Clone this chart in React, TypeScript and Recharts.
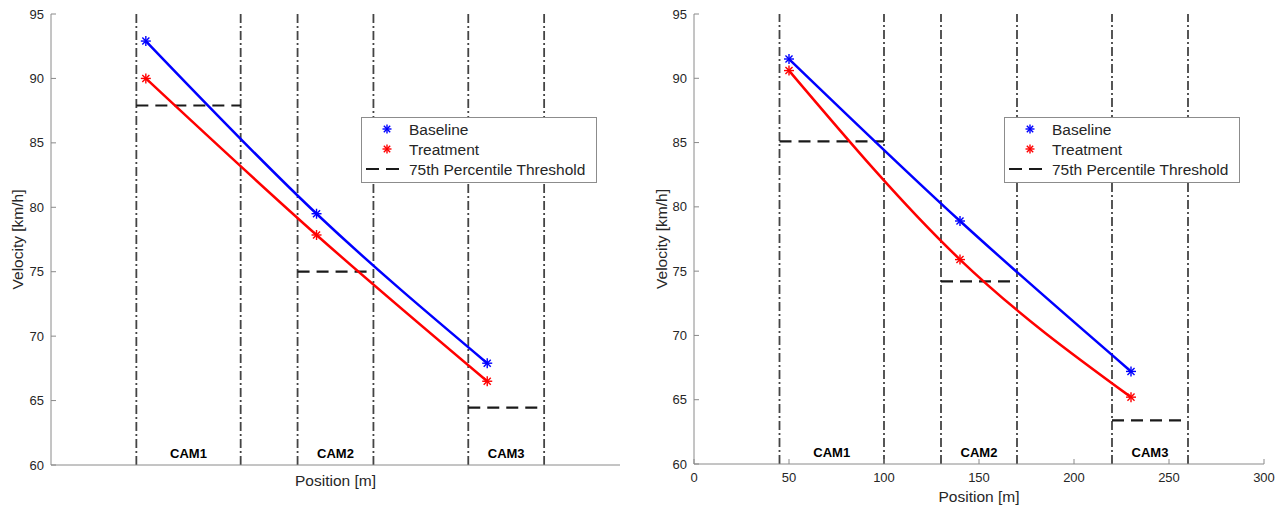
import React from 'react';
import { LineChart, Line, XAxis, YAxis, ReferenceLine, ReferenceArea, Legend } from 'recharts';

const positions = [50, 140, 230];
const leftBaseline = [92.9, 79.5, 67.9];
const leftTreatment = [90.0, 77.85, 66.5];
const leftThreshold = [87.9, 75.0, 64.45];
const rightBaseline = [91.5, 78.9, 67.2];
const rightTreatment = [90.6, 75.9, 65.2];
const rightThreshold = [85.1, 74.2, 63.4];
const camLabels = ['CAM1', 'CAM2', 'CAM3'];
const camStart = [45, 130, 220];
const camEnd = [100, 170, 260];
const yTicks = [60, 65, 70, 75, 80, 85, 90, 95];
const xTicks = [0, 50, 100, 150, 200, 250, 300];
const seriesNames = ['Baseline', 'Treatment', '75th Percentile Threshold'];

const FONT = '"Liberation Sans", Arial, Helvetica, sans-serif';
const BLUE = '#0000ff';
const RED = '#ff0000';
const AXIS = '#8a8a8a';
const TEXT = '#262626';

const Asterisk = ({ cx, cy, color, r = 5 }: any) => {
  const d = r * 0.707;
  return (
    <g stroke={color} strokeWidth={1.4}>
      <line x1={cx - r} y1={cy} x2={cx + r} y2={cy} />
      <line x1={cx} y1={cy - r} x2={cx} y2={cy + r} />
      <line x1={cx - d} y1={cy - d} x2={cx + d} y2={cy + d} />
      <line x1={cx - d} y1={cy + d} x2={cx + d} y2={cy - d} />
    </g>
  );
};

const LegendBox = () => (
  <svg width={236} height={66} style={{ display: 'block' }}>
    <rect x={0.5} y={0.5} width={235} height={65} fill="#fff" stroke="#8c8c8c" strokeWidth={1} />
    <Asterisk cx={26} cy={12} color={BLUE} r={4.5} />
    <Asterisk cx={26} cy={32} color={RED} r={4.5} />
    <line x1={5} y1={52} x2={38} y2={52} stroke="#1a1a1a" strokeWidth={2} strokeDasharray="13 7" />
    {seriesNames.map((n, i) => (
      <text key={n} x={48} y={12 + i * 20} dominantBaseline="central" fontSize={15.5} fill={TEXT} fontFamily={FONT}>
        {n}
      </text>
    ))}
  </svg>
);

const Panel = ({ baseline, treatment, threshold, showTicks, width, margin, legendLeft, xLabelOffset, yLabelDx }: any) => {
  const data = positions.map((x, i) => ({ x, baseline: baseline[i], treatment: treatment[i] }));
  return (
    <LineChart width={width} height={506} data={data} margin={margin} style={{ fontFamily: FONT }}>
      <XAxis
        dataKey="x"
        type="number"
        domain={[0, 300]}
        ticks={xTicks}
        tick={showTicks ? { fill: TEXT, fontSize: 13 } : false}
        tickLine={showTicks ? { stroke: AXIS } : false}
        tickSize={-5}
        tickMargin={14}
        axisLine={{ stroke: AXIS }}
        height={30}
        interval={0}
        label={{ value: 'Position [m]', position: 'insideTop', offset: xLabelOffset, fill: TEXT, fontSize: 15.5 }}
      />
      <YAxis
        type="number"
        domain={[60, 95]}
        ticks={yTicks}
        tick={{ fill: TEXT, fontSize: 13 }}
        tickLine={{ stroke: AXIS }}
        tickSize={-5}
        tickMargin={12}
        axisLine={{ stroke: AXIS }}
        width={40}
        interval={0}
        label={{
          content: (p: any) => {
            const vb = p.viewBox || { x: 0, y: 14, height: 451 };
            const cx = vb.x + yLabelDx;
            const cy = vb.y + vb.height / 2;
            return (
              <text x={cx} y={cy} transform={`rotate(-90, ${cx}, ${cy})`} textAnchor="middle" dominantBaseline="central" fontSize={15.5} fill={TEXT} fontFamily={FONT}>
                Velocity [km/h]
              </text>
            );
          },
        }}
      />
      {camStart.map((s, i) => (
        <ReferenceArea
          key={'a' + i}
          x1={s}
          x2={camEnd[i]}
          fill="#fff"
          fillOpacity={0}
          stroke="none"
          label={{ value: camLabels[i], position: 'insideBottom', offset: 7, fill: '#000', fontSize: 13, fontWeight: 'bold' }}
        />
      ))}
      {[...camStart, ...camEnd].map((x) => (
        <ReferenceLine key={'v' + x} x={x} stroke="#444" strokeWidth={1.8} strokeDasharray="9 3 2 3" />
      ))}
      {camStart.map((s, i) => (
        <ReferenceLine
          key={'t' + i}
          segment={[{ x: s, y: threshold[i] }, { x: camEnd[i], y: threshold[i] }]}
          stroke="#1a1a1a"
          strokeWidth={2.2}
          strokeDasharray="12 7"
        />
      ))}
      <Line
        dataKey="baseline"
        name={seriesNames[0]}
        type="natural"
        stroke={BLUE}
        strokeWidth={2.5}
        isAnimationActive={false}
        dot={(p: any) => <Asterisk key={'b' + p.index} cx={p.cx} cy={p.cy} color={BLUE} />}
        activeDot={false}
      />
      <Line
        dataKey="treatment"
        name={seriesNames[1]}
        type="natural"
        stroke={RED}
        strokeWidth={2.5}
        isAnimationActive={false}
        dot={(p: any) => <Asterisk key={'r' + p.index} cx={p.cx} cy={p.cy} color={RED} />}
        activeDot={false}
      />
      <Legend
        layout="vertical"
        align="center"
        verticalAlign="middle"
        content={() => <LegendBox />}
        wrapperStyle={{ left: legendLeft, top: 117, width: 236, height: 66 }}
      />
    </LineChart>
  );
};

export default function App() {
  return (
    <div style={{ position: 'absolute', left: 0, top: 0, width: 1287, height: 506, background: '#fff' }}>
      <div style={{ position: 'absolute', left: 0, top: 0 }}>
        <Panel
          baseline={leftBaseline}
          treatment={leftTreatment}
          threshold={leftThreshold}
          showTicks={false}
          width={640}
          margin={{ top: 14, right: 20, bottom: 11, left: 11 }}
          legendLeft={361}
          xLabelOffset={10}
          yLabelDx={6}
        />
      </div>
      <div style={{ position: 'absolute', left: 640, top: 0 }}>
        <Panel
          baseline={rightBaseline}
          treatment={rightTreatment}
          threshold={rightThreshold}
          showTicks={true}
          width={647}
          margin={{ top: 14, right: 23, bottom: 12, left: 14 }}
          legendLeft={364}
          xLabelOffset={27}
          yLabelDx={7}
        />
      </div>
    </div>
  );
}
